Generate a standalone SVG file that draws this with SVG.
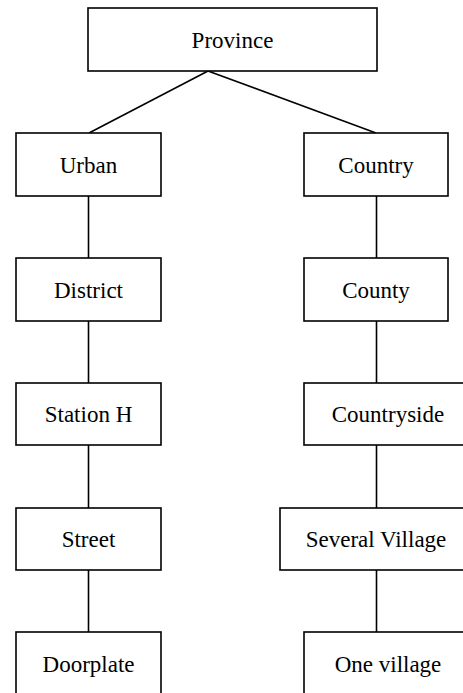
<svg xmlns="http://www.w3.org/2000/svg" width="463" height="693" viewBox="0 0 463 693">
<style>
.box{fill:#fff;stroke:#000;stroke-width:1.6}
.lbl{font-size:23px;fill:#000;text-anchor:middle}
.ln{stroke:#000;stroke-width:1.6;fill:none}
</style>
<rect width="463" height="693" fill="#fff"/>
<g id="connectors">
<line class="ln" x1="208" y1="71" x2="89" y2="133"/>
<line class="ln" x1="208" y1="71" x2="376" y2="133"/>
<line class="ln" x1="88.5" y1="196" x2="88.5" y2="258"/>
<line class="ln" x1="88.5" y1="321" x2="88.5" y2="383"/>
<line class="ln" x1="88.5" y1="445" x2="88.5" y2="508"/>
<line class="ln" x1="88.5" y1="570" x2="88.5" y2="632"/>
<line class="ln" x1="376.5" y1="196" x2="376.5" y2="258"/>
<line class="ln" x1="376.5" y1="321" x2="376.5" y2="383"/>
<line class="ln" x1="376.5" y1="445" x2="376.5" y2="508"/>
<line class="ln" x1="376.5" y1="570" x2="376.5" y2="632"/>
</g>
<g font-family="Liberation Serif, Times New Roman, serif">
<g id="province"><rect class="box" x="88" y="8" width="289" height="63"/><text class="lbl" x="232.5" y="48">Province</text></g>
<g id="urban"><rect class="box" x="16" y="133" width="145" height="63"/><text class="lbl" x="88.5" y="173">Urban</text></g>
<g id="district"><rect class="box" x="16" y="258" width="145" height="63"/><text class="lbl" x="88.5" y="298">District</text></g>
<g id="station"><rect class="box" x="16" y="383" width="145" height="62"/><text class="lbl" x="88.5" y="422">Station H</text></g>
<g id="street"><rect class="box" x="16" y="508" width="145" height="62"/><text class="lbl" x="88.5" y="547">Street</text></g>
<g id="doorplate"><rect class="box" x="16" y="632" width="145" height="63"/><text class="lbl" x="88.5" y="672">Doorplate</text></g>
<g id="country"><rect class="box" x="304" y="133" width="144" height="63"/><text class="lbl" x="376" y="173">Country</text></g>
<g id="county"><rect class="box" x="304" y="258" width="144" height="63"/><text class="lbl" x="376" y="298">County</text></g>
<g id="countryside"><rect class="box" x="304" y="383" width="168" height="62"/><text class="lbl" x="388" y="422">Countryside</text></g>
<g id="several"><rect class="box" x="280" y="508" width="192" height="62"/><text class="lbl" x="376" y="547">Several Village</text></g>
<g id="onevillage"><rect class="box" x="304" y="632" width="168" height="63"/><text class="lbl" x="388" y="672">One village</text></g>
</g>
</svg>
